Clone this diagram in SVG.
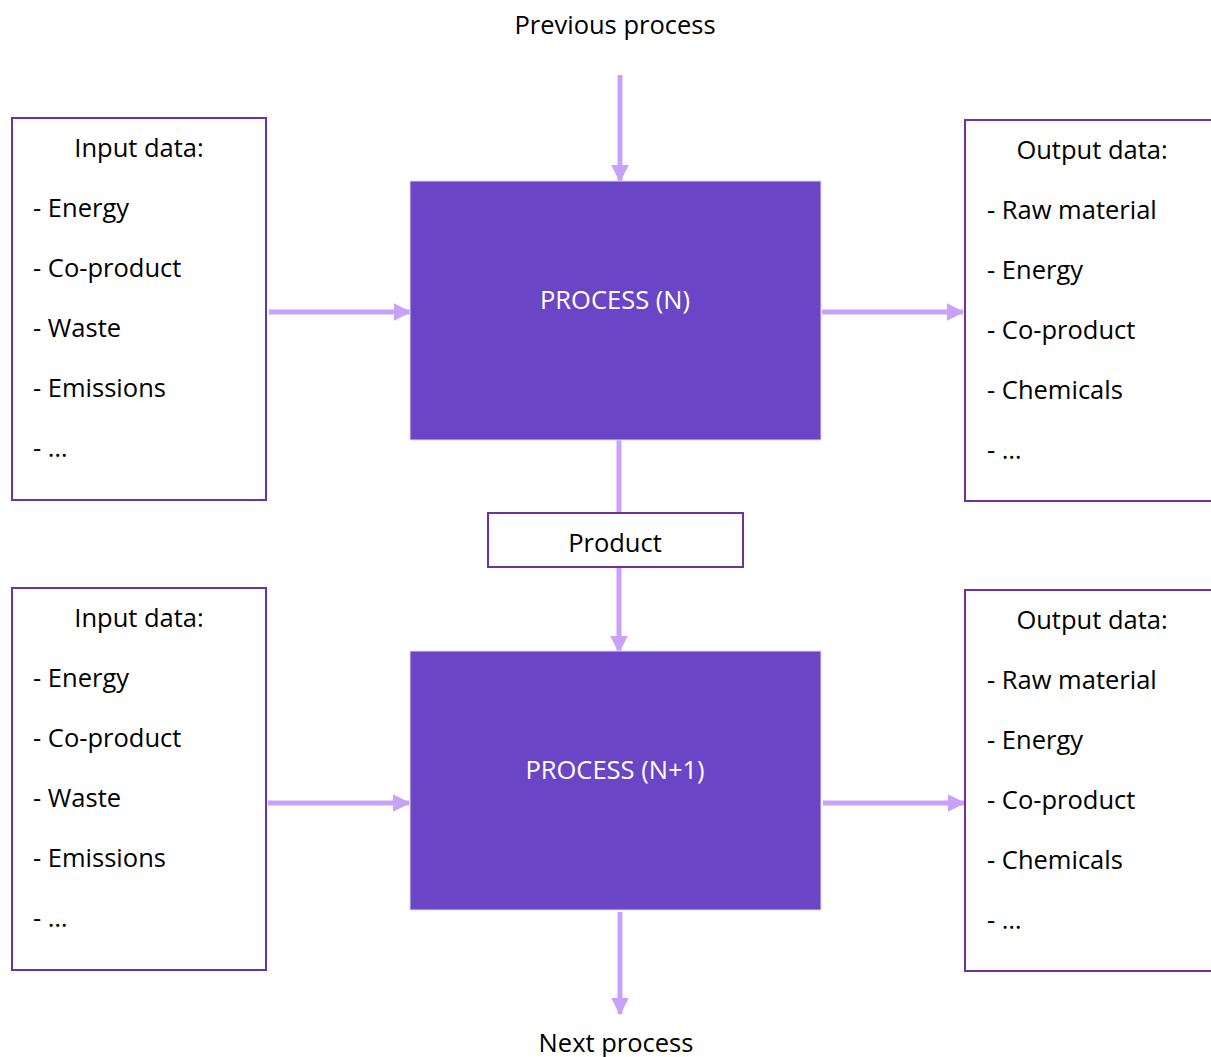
<svg xmlns="http://www.w3.org/2000/svg" width="1211" height="1057" viewBox="0 0 1211 1057">
<defs>
<style>
.t{font-family:"Open Sans","Liberation Sans",sans-serif;font-size:25.5px;fill:#000}
.w{fill:#fff}
.c{text-anchor:middle}
.box{fill:#fff;stroke:#7030A0;stroke-width:2}
.proc{fill:#6A46C6;stroke:#E2D8F6;stroke-width:1}
.ln{stroke:#C8A2F8;stroke-width:5;fill:none}
</style>
<marker id="ah" markerWidth="3.6" markerHeight="3.6" refX="3.3" refY="1.8" orient="auto" markerUnits="strokeWidth" viewBox="0 0 3.6 3.6">
<path d="M0,0 L3.6,1.8 L0,3.6 Z" fill="#C8A2F8"/>
</marker>
</defs>
<rect width="1211" height="1057" fill="#fff"/>
<g id="connectors">
<line class="ln" x1="620" y1="75" x2="620" y2="181" marker-end="url(#ah)"/>
<line class="ln" x1="269" y1="312" x2="410" y2="312" marker-end="url(#ah)"/>
<line class="ln" x1="822" y1="312" x2="963" y2="312" marker-end="url(#ah)"/>
<line class="ln" x1="619" y1="440" x2="619" y2="513"/>
<line class="ln" x1="619" y1="567" x2="619" y2="652" marker-end="url(#ah)"/>
<line class="ln" x1="268" y1="803" x2="409" y2="803" marker-end="url(#ah)"/>
<line class="ln" x1="823" y1="803" x2="964" y2="803" marker-end="url(#ah)"/>
<line class="ln" x1="620" y1="912" x2="620" y2="1014" marker-end="url(#ah)"/>
</g>
<g id="prev"><text class="t c" x="615" y="34">Previous process</text></g>
<g id="next"><text class="t c" x="616" y="1052">Next process</text></g>
<g id="input1">
<rect class="box" x="12" y="118" width="254" height="382"/>
<text class="t c" x="139" y="157">Input data:</text>
<text class="t" x="33" y="217">- Energy</text>
<text class="t" x="33" y="277">- Co-product</text>
<text class="t" x="33" y="337">- Waste</text>
<text class="t" x="33" y="397">- Emissions</text>
<text class="t" x="33" y="457">- …</text>
</g>
<g id="process1">
<rect class="proc" x="410" y="181" width="411" height="259"/>
<text class="t w c" x="615" y="309">PROCESS (N)</text>
</g>
<g id="output1">
<rect class="box" x="965" y="120" width="260" height="381"/>
<text class="t c" x="1092" y="159">Output data:</text>
<text class="t" x="987" y="219">- Raw material</text>
<text class="t" x="987" y="279">- Energy</text>
<text class="t" x="987" y="339">- Co-product</text>
<text class="t" x="987" y="399">- Chemicals</text>
<text class="t" x="987" y="459">- …</text>
</g>
<g id="product">
<rect class="box" x="488" y="513" width="255" height="54"/>
<text class="t c" x="615" y="552">Product</text>
</g>
<g id="input2">
<rect class="box" x="12" y="588" width="254" height="382"/>
<text class="t c" x="139" y="627">Input data:</text>
<text class="t" x="33" y="687">- Energy</text>
<text class="t" x="33" y="747">- Co-product</text>
<text class="t" x="33" y="807">- Waste</text>
<text class="t" x="33" y="867">- Emissions</text>
<text class="t" x="33" y="927">- …</text>
</g>
<g id="process2">
<rect class="proc" x="410" y="651" width="411" height="259"/>
<text class="t w c" x="615" y="779">PROCESS (N+1)</text>
</g>
<g id="output2">
<rect class="box" x="965" y="590" width="260" height="381"/>
<text class="t c" x="1092" y="629">Output data:</text>
<text class="t" x="987" y="689">- Raw material</text>
<text class="t" x="987" y="749">- Energy</text>
<text class="t" x="987" y="809">- Co-product</text>
<text class="t" x="987" y="869">- Chemicals</text>
<text class="t" x="987" y="929">- …</text>
</g>
</svg>
